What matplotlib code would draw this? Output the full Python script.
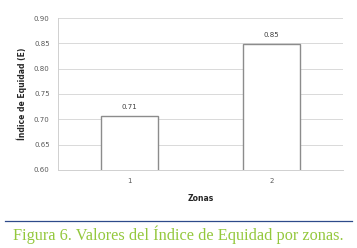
import numpy as np
import matplotlib
matplotlib.use("Agg")
import matplotlib.pyplot as plt
from matplotlib.lines import Line2D

# --- data ---
zonas = ["1", "2"]
equidad = [0.706, 0.848]
etiquetas = ["0.71", "0.85"]
yticks = [0.60, 0.65, 0.70, 0.75, 0.80, 0.85, 0.90]

fig = plt.figure(figsize=(3.57, 2.48), dpi=100)
ax = fig.add_axes([0.1625, 0.315, 0.7985, 0.612])

x = np.arange(len(zonas))
bars = ax.bar(x, equidad, width=0.4, color="white", edgecolor="#8c8c8c",
              linewidth=1.0, zorder=3)

for b, lab in zip(bars, etiquetas):
    ax.text(b.get_x() + b.get_width() / 2, b.get_height() + 0.012, lab,
            ha="center", va="bottom", fontsize=5, color="#404040")

ax.set_xlim(-0.5, 1.5)
ax.set_ylim(0.60, 0.90)
ax.set_yticks(yticks)
ax.set_yticklabels([f"{t:.2f}" for t in yticks])
ax.set_xticks(x)
ax.set_xticklabels(zonas)
ax.tick_params(axis="both", length=0, labelsize=5, labelcolor="#595959", pad=6)
ax.grid(axis="y", color="#d9d9d9", linewidth=0.7, zorder=0)

for s in ["top", "right"]:
    ax.spines[s].set_visible(False)
for s in ["left", "bottom"]:
    ax.spines[s].set_color("#d0d0d0")
    ax.spines[s].set_linewidth(0.7)

ax.set_ylabel("Índice de Equidad (E)", fontsize=5.5, fontweight="bold",
              color="#262626", labelpad=5)
ax.set_xlabel("Zonas", fontsize=5.5, fontweight="bold", color="#262626",
              labelpad=7)

# caption with rule above it
fig.add_artist(Line2D([5 / 357, 352 / 357], [1 - 221 / 248, 1 - 221 / 248],
                      color="#2e4a8a", linewidth=0.9))
fig.text(178 / 357, 1 - 235 / 248, "Figura 6. Valores del Índice de Equidad por zonas.",
         ha="center", va="center", fontsize=11.7, color="#94c83d",
         family="Liberation Serif")

fig.savefig("out.png", dpi=100)
